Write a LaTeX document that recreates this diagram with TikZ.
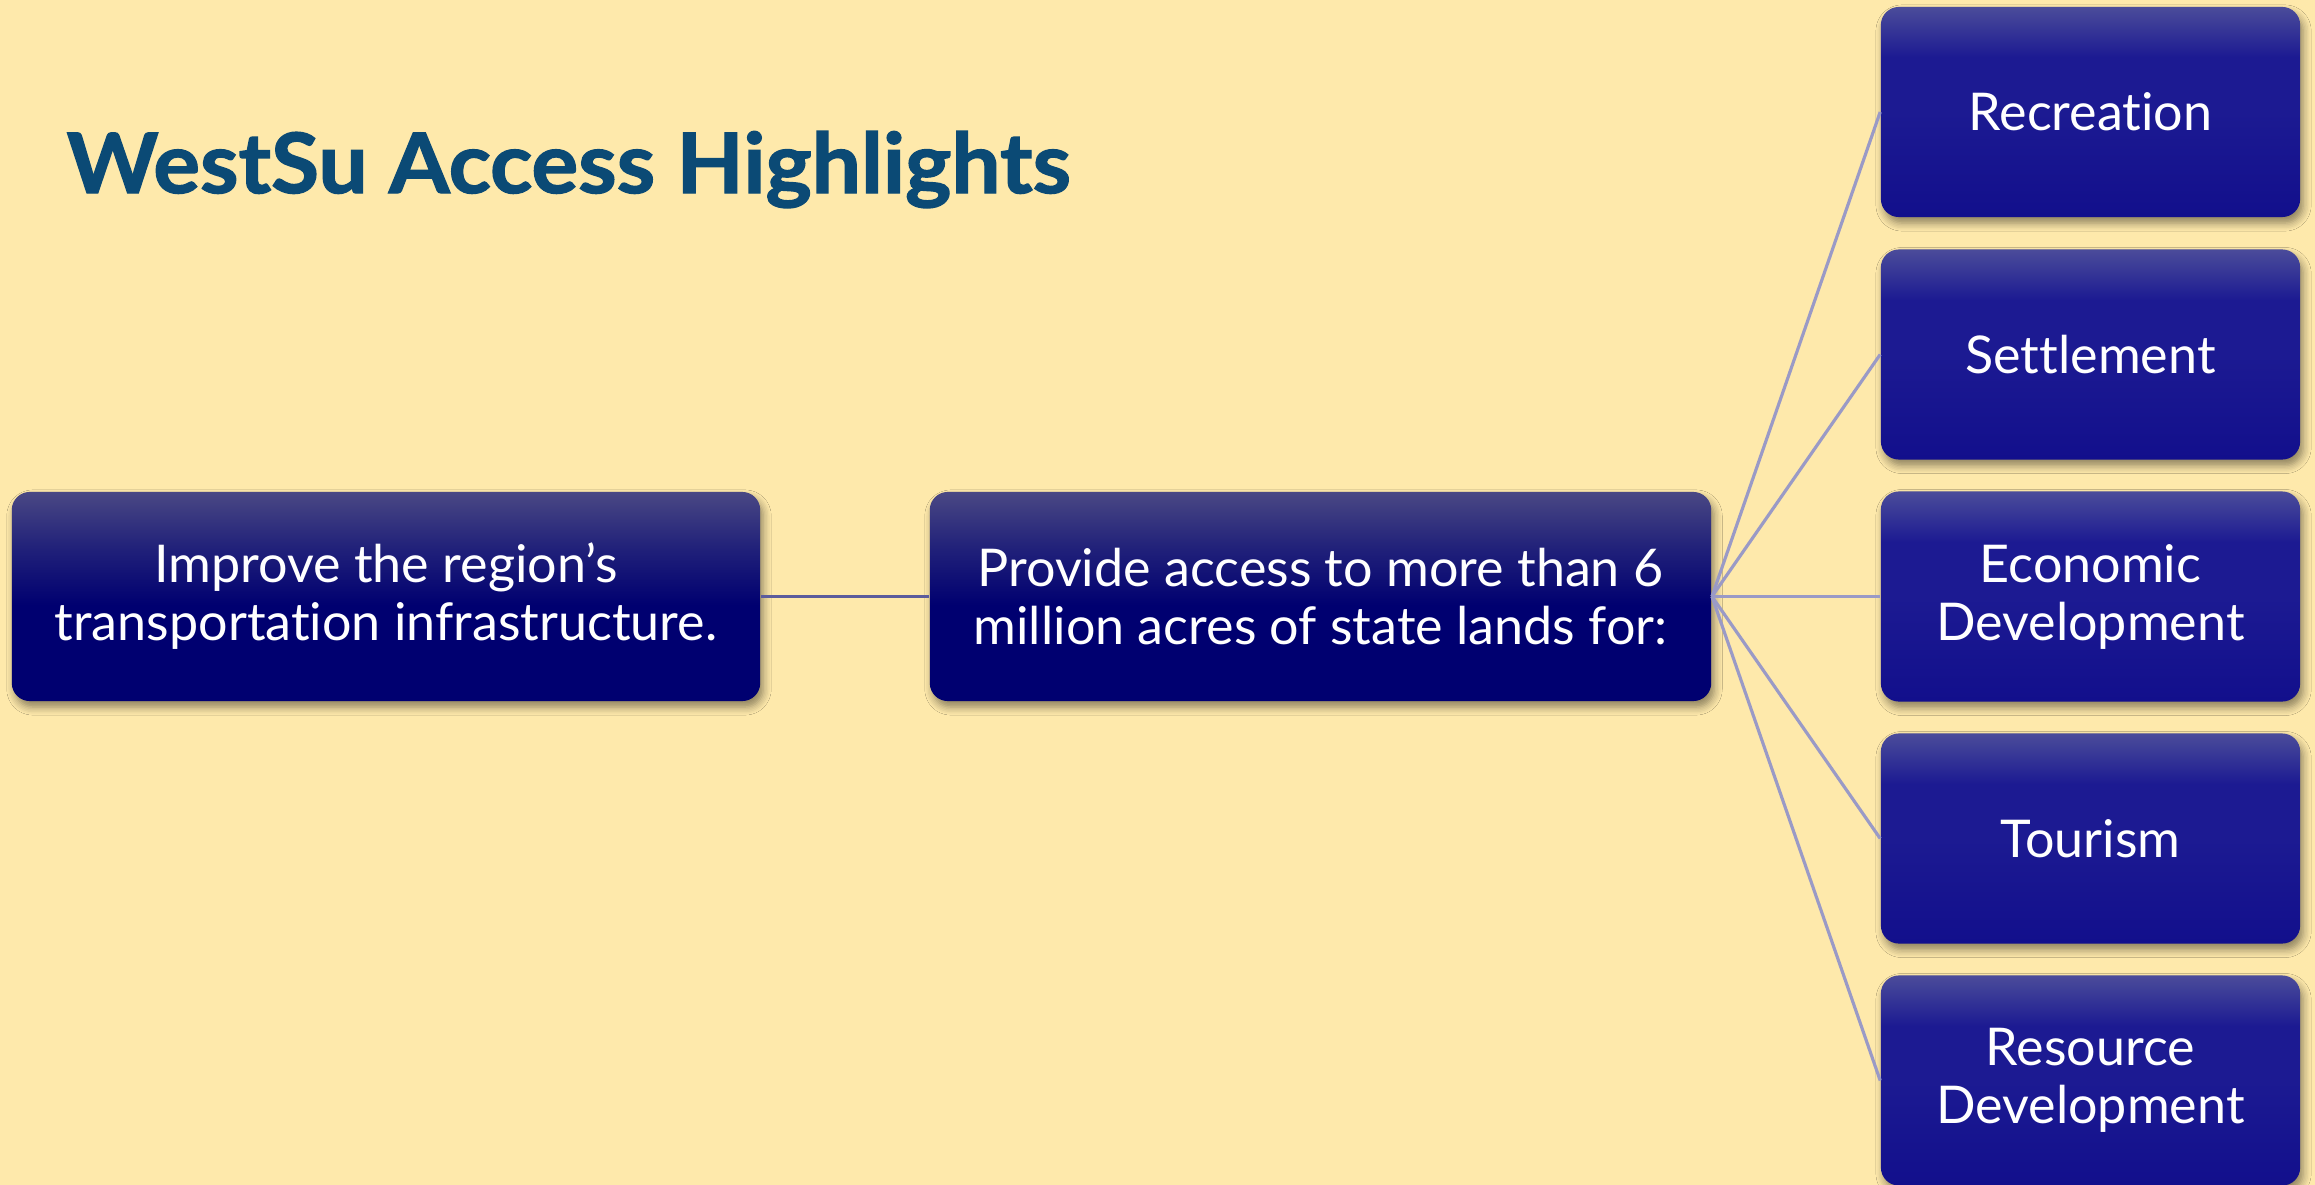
\documentclass[tikz,border=0pt]{standalone}
\usepackage{fontspec}
\setmainfont{Lato}[Ligatures={NoCommon}]
\newfontfamily\titlefont{Lato}[BoldFeatures={FakeBold=1.6,FakeStretch=1.05}]
\usetikzlibrary{shadows.blur}
\definecolor{bg}{HTML}{FEE9AB}
\definecolor{titlec}{HTML}{0B4A75}
\definecolor{dA}{HTML}{000070}
\definecolor{mA}{HTML}{22227A}
\definecolor{lA}{HTML}{4A4884}
\definecolor{dB}{HTML}{120F8C}
\definecolor{mB}{HTML}{1C1A92}
\definecolor{lB}{HTML}{4B4C9A}
\definecolor{lineA}{HTML}{5C5C9C}
\definecolor{lineB}{HTML}{9A9AC6}
\pgfdeclareverticalshading{shadeA}{100bp}{color(0bp)=(dA); color(25bp)=(dA); color(48bp)=(dA); color(62bp)=(mA); color(75bp)=(lA); color(100bp)=(lA)}
\pgfdeclareverticalshading{shadeB}{100bp}{color(0bp)=(dB); color(25bp)=(dB); color(50bp)=(mB); color(63bp)=(mB); color(75bp)=(lB); color(100bp)=(lB)}
\tikzset{
  boxbase/.style={rectangle, rounded corners=0.18cm, text=white, align=center,
    font=\fontsize{14.8}{16.5}\selectfont, inner sep=0pt,
    blur shadow={shadow xshift=0.03cm, shadow yshift=-0.06cm, shadow blur steps=6, shadow opacity=45, shadow blur radius=0.08cm}},
  boxA/.style={boxbase, shading=shadeA, minimum height=2.09cm},
  boxB/.style={boxbase, shading=shadeB, minimum width=4.19cm, minimum height=2.10cm},
  linkA/.style={draw=lineA, line width=0.9pt},
  linkB/.style={draw=lineB, line width=0.9pt}
}
\begin{document}
\begin{tikzpicture}[x=0.01cm, y=-0.01cm]
\fill[bg] (0,0) rectangle (2315,1185);
\useasboundingbox (0,0) rectangle (2315,1185);
\node[anchor=base west, inner sep=0pt, text=titlec, font=\fontsize{23.7}{28}\selectfont\titlefont\bfseries] (title) at (66,193) {WestSu Access Highlights};
\node[boxA, minimum width=7.48cm] (L) at (386,596.5) {Improve the region’s\\transportation infrastructure.};
\node[boxA, minimum width=7.81cm] (M) at (1320.5,596.5) {Provide access to more than 6\\million acres of state lands for:};
\node[boxB] (R1) at (2090.5,112) {Recreation};
\node[boxB] (R2) at (2090.5,354.5) {Settlement};
\node[boxB] (R3) at (2090.5,596.5) {Economic\\Development};
\node[boxB] (R4) at (2090.5,838.5) {Tourism};
\node[boxB] (R5) at (2090.5,1080.5) {Resource\\Development};
\draw[linkA] (L.east) -- (M.west);
\foreach \r in {R1,R2,R3,R4,R5} \draw[linkB] (M.east) -- (\r.west);
\end{tikzpicture}
\end{document}
